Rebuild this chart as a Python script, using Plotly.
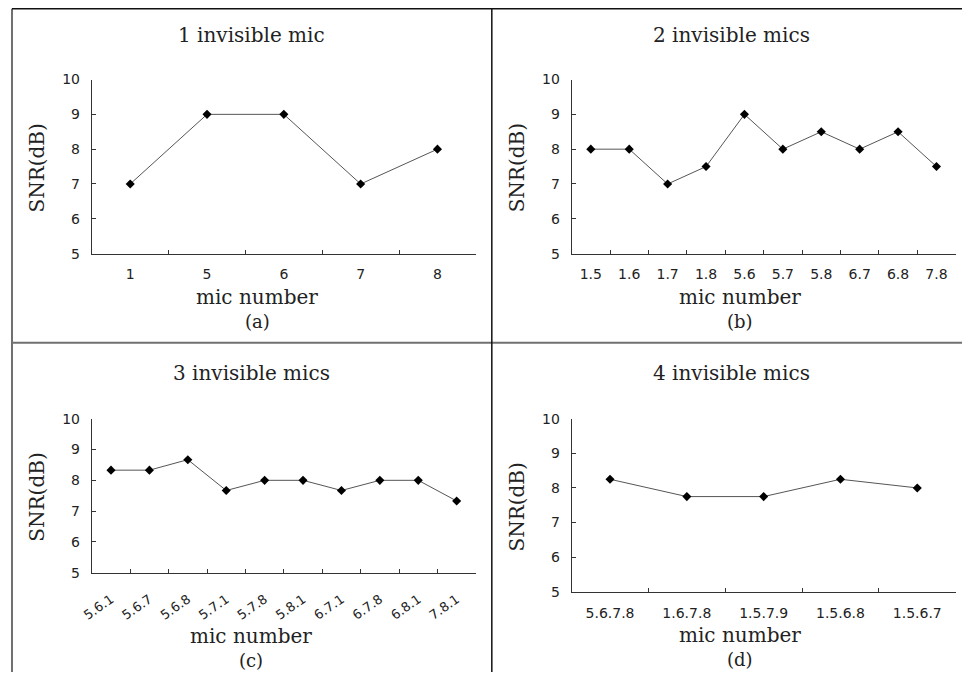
import plotly.graph_objects as go

W, H = 962, 680
# the photographed page maps page px -> about S*px + OFF; place marks in page coords
SX, OFFX = 0.991, 7.0
SY, OFFY = 0.976, 8.5

# ---- data ----
cats_a = ["1", "5", "6", "7", "8"]
snr_a = [7, 9, 9, 7, 8]

cats_b = ["1.5", "1.6", "1.7", "1.8", "5.6", "5.7", "5.8", "6.7", "6.8", "7.8"]
snr_b = [8, 8, 7, 7.5, 9, 8, 8.5, 8, 8.5, 7.5]

cats_c = ["5.6.1", "5.6.7", "5.6.8", "5.7.1", "5.7.8", "5.8.1", "6.7.1", "6.7.8", "6.8.1", "7.8.1"]
snr_c = [8.33, 8.33, 8.67, 7.67, 8.0, 8.0, 7.67, 8.0, 8.0, 7.33]

cats_d = ["5.6.7.8", "1.6.7.8", "1.5.7.9", "1.5.6.8", "1.5.6.7"]
snr_d = [8.25, 7.75, 7.75, 8.25, 8.0]

titles = ["1 invisible mic", "2 invisible mics", "3 invisible mics", "4 invisible mics"]
letters = ["(a)", "(b)", "(c)", "(d)"]
y_ticks = [5, 6, 7, 8, 9, 10]


def px(x):
    p = (x - OFFX) / SX
    return max(0.0, min(1.0, p / W))


def py(y):
    p = (y - OFFY) / SY
    return max(0.0, min(1.0, 1 - p / H))


# panel geometry in target pixels: x0, x1, ytop, ybottom
panels = [
    dict(cats=cats_a, vals=snr_a, x0=88, x1=473, yt=80, yb=254, angle=0, so=8, fs=14),
    dict(cats=cats_b, vals=snr_b, x0=569, x1=954, yt=80, yb=254, angle=0, so=8, fs=14),
    dict(cats=cats_c, vals=snr_c, x0=88, x1=473, yt=419, yb=573, angle=-35, so=13, fs=13),
    dict(cats=cats_d, vals=snr_d, x0=569, x1=954, yt=419, yb=592, angle=0, so=8, fs=14),
]

# text positions (target pixels)
text_pos = [
    dict(tx=248, ty=35, sx=33, sy=168, mx=254, my=297, lx=254, ly=322),
    dict(tx=729, ty=35, sx=514, sy=168, mx=738, my=297, lx=738, ly=322),
    dict(tx=248, ty=373, sx=33, sy=497, mx=248, my=636, lx=248, ly=661),
    dict(tx=729, ty=373, sx=514, sy=507, mx=738, my=635, lx=738, ly=660),
]

fig = go.Figure()
layout = dict(
    width=W, height=H,
    margin=dict(l=0, r=0, t=0, b=0),
    paper_bgcolor="white", plot_bgcolor="white",
    showlegend=False,
)

serif = "DejaVu Serif"
sans = "DejaVu Sans"
annotations = []

for i, p in enumerate(panels):
    n = i + 1
    xa = "x" if n == 1 else f"x{n}"
    ya = "y" if n == 1 else f"y{n}"
    fig.add_trace(go.Scatter(
        x=p["cats"], y=p["vals"], xaxis=xa, yaxis=ya,
        mode="lines+markers",
        line=dict(color="#555555", width=1),
        marker=dict(symbol="diamond", size=7, color="black"),
        hoverinfo="skip",
    ))
    xkey = "xaxis" if n == 1 else f"xaxis{n}"
    ykey = "yaxis" if n == 1 else f"yaxis{n}"
    layout[xkey] = dict(
        domain=[px(p["x0"]), px(p["x1"])],
        anchor=ya, type="category",
        categoryorder="array", categoryarray=p["cats"],
        range=[-0.5, len(p["cats"]) - 0.5],
        showline=True, linecolor="#333333", linewidth=1,
        showgrid=False, zeroline=False,
        ticks="inside", ticklen=4, tickcolor="#333333", tickwidth=1,
        tickson="boundaries",
        tickangle=p["angle"],
        tickfont=dict(family=sans, size=p["fs"], color="#222222"),
        ticklabelstandoff=p["so"],
    )
    layout[ykey] = dict(
        domain=[py(p["yb"]), py(p["yt"])],
        anchor=xa, range=[5, 10],
        tickvals=y_ticks, ticktext=[str(v) for v in y_ticks],
        showline=True, linecolor="#333333", linewidth=1,
        showgrid=False, zeroline=False,
        ticks="inside", ticklen=4, tickcolor="#333333", tickwidth=1,
        tickfont=dict(family=sans, size=14, color="#222222"),
        ticklabelstandoff=8,
    )
    t = text_pos[i]
    annotations += [
        dict(text=titles[i], x=px(t["tx"]), y=py(t["ty"]), xref="paper", yref="paper",
             showarrow=False, xanchor="center", yanchor="middle",
             font=dict(family=serif, size=20, color="#222222")),
        dict(text="SNR(dB)", x=px(t["sx"]), y=py(t["sy"]), xref="paper", yref="paper",
             showarrow=False, xanchor="center", yanchor="middle", textangle=-90,
             font=dict(family=serif, size=20, color="#222222")),
        dict(text="mic number", x=px(t["mx"]), y=py(t["my"]), xref="paper", yref="paper",
             showarrow=False, xanchor="center", yanchor="middle",
             font=dict(family=serif, size=20, color="#222222")),
        dict(text=letters[i], x=px(t["lx"]), y=py(t["ly"]), xref="paper", yref="paper",
             showarrow=False, xanchor="center", yanchor="middle",
             font=dict(family=serif, size=18, color="#222222")),
    ]

layout["annotations"] = annotations
layout["shapes"] = [
    dict(type="line", xref="paper", yref="paper", x0=px(8), x1=px(8), y0=py(9.3), y1=py(690),
         line=dict(color="#707070", width=2)),
    dict(type="line", xref="paper", yref="paper", x0=px(8), x1=px(970), y0=py(9.3), y1=py(9.3),
         line=dict(color="#111111", width=1.5)),
    dict(type="line", xref="paper", yref="paper", x0=px(8), x1=px(970), y0=py(343), y1=py(343),
         line=dict(color="#707070", width=2)),
    dict(type="line", xref="paper", yref="paper", x0=px(489), x1=px(489), y0=py(9.3), y1=py(690),
         line=dict(color="#111111", width=1.5)),
]

fig.update_layout(**layout)
fig.write_html(
    "out.html",
    config={"displayModeBar": False},
    post_script="document.body.style.margin='0';document.body.style.padding='0';document.body.style.overflow='hidden';",
)
